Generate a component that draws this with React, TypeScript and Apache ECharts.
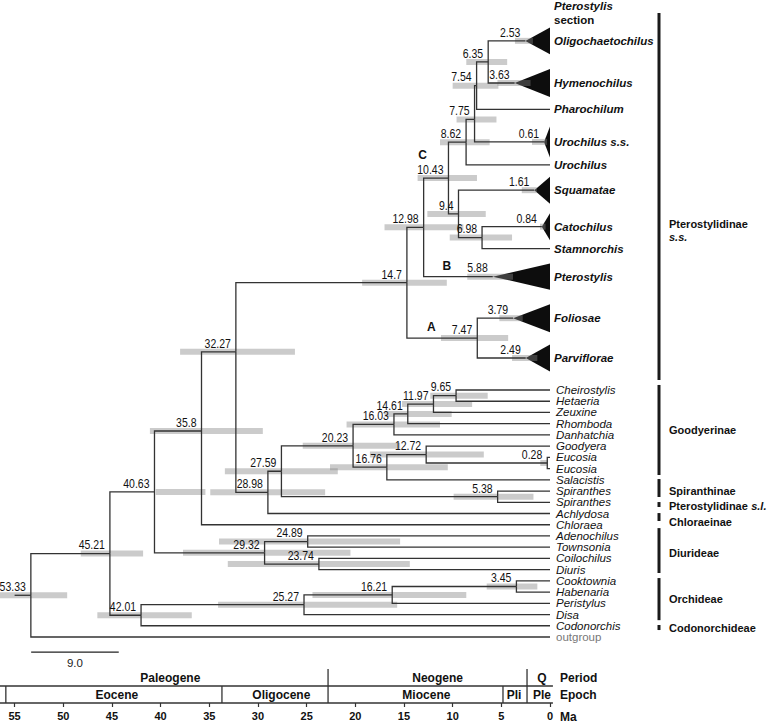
import React, { useEffect, useRef } from 'react';
import * as echarts from 'echarts';

// ---------- Tips (top to bottom) ----------
const tipNames = [
  'Oligochaetochilus', 'Hymenochilus', 'Pharochilum', 'Urochilus s.s.', 'Urochilus', 'Squamatae',
  'Catochilus', 'Stamnorchis', 'Pterostylis', 'Foliosae', 'Parviflorae',
  'Cheirostylis', 'Hetaeria', 'Zeuxine', 'Rhomboda', 'Danhatchia', 'Goodyera', 'Eucosia', 'Eucosia',
  'Salacistis', 'Spiranthes', 'Spiranthes', 'Achlydosa', 'Chloraea', 'Adenochilus', 'Townsonia',
  'Coilochilus', 'Diuris', 'Cooktownia', 'Habenaria', 'Peristylus', 'Disa', 'Codonorchis', 'outgroup',
];
const tipRows = [
  -0.1, 3.65, 6.0, 8.9, 10.95, 13.2, 16.45, 18.4, 20.9, 24.6, 28.15,
  31, 32, 33, 34, 35, 36, 37, 38, 39, 40, 41, 42, 43, 44, 45, 46, 47, 48, 49, 50, 51, 52, 53,
];
const sectionTipCount = 11; // bold italic labels (Pterostylidinae s.s. section)

// collapsed clades (first 11 tips): crown age, HPD, triangle half-height (rows)
const crownAges = [2.53, 3.63, null, 0.61, null, 1.61, 0.84, null, 5.88, 3.79, 2.49];
const crownHpdHigh = [3.6, 5.4, null, 1.85, null, 2.9, 1.03, null, 8.5, 5.2, 3.9];
const crownHpdLow = [1.75, 2.0, null, 0.3, null, 1.35, 0.45, null, 3.8, 2.8, 1.3];
const crownHalfHeights = [1.2, 1.25, 0, 1.38, 0, 1.2, 1.2, 0, 1.16, 1.25, 1.2];

// ---------- Internal nodes ----------
const nodeLabels = [
  '6.35', '7.54', '7.75', '8.62', '6.98', '9.4', '10.43', '12.98', '7.47', '14.7',
  '9.65', '11.97', '14.61', '16.03', '0.28', '12.72', '16.76', '20.23', '5.38', '27.59', '28.98',
  '32.27', '35.8', '24.89', '23.74', '29.32', '40.63', '3.45', '16.21', '25.27', '42.01', '45.21', '53.33',
];
const nodeChildren: (number | string)[][] = [
  [0, 1], ['6.35', 2], ['7.54', 3], ['7.75', 4], [6, 7], [5, '6.98'], ['8.62', '9.4'], ['10.43', 8], [9, 10], ['12.98', '7.47'],
  [11, 12], ['9.65', 13], ['11.97', 14], ['14.61', 15], [17, 18], [16, '0.28'], ['12.72', 19], ['16.03', '16.76'], [20, 21], ['20.23', '5.38'], ['27.59', 22],
  ['14.7', '28.98'], ['32.27', 23], [24, 25], [26, 27], ['24.89', '23.74'], ['35.8', '29.32'], [28, 29], ['3.45', 30], ['16.21', 31], ['25.27', 32], ['40.63', '42.01'], ['45.21', 33],
];
const nodeHpdHigh = [
  8.6, 10.0, 9.6, 11.3, 10.3, 12.6, 13.6, 17.0, 11.2, 19.3,
  12.3, 15.2, 17.0, 20.9, 1.0, 18.5, 22.6, 25.4, 9.9, 33.4, 34.9,
  38.0, 41.1, 34.0, 33.1, 37.7, 40.5, 6.5, 24.4, 34.1, 46.5, 48.2, 57.5,
];
const nodeHpdLow = [
  4.4, 5.3, 5.5, 6.2, 3.9, 6.6, 7.5, 8.9, 4.3, 10.6,
  6.4, 8.0, 10.1, 11.3, 0.2, 6.8, 10.5, 15.4, 1.7, 21.8, 23.1,
  26.2, 29.5, 15.4, 14.4, 20.5, 35.4, 1.3, 8.6, 15.7, 36.8, 41.8, 49.6,
];
const nodeRowOverrides: Record<string, number> = { '7.75': 6.9, '32.27': 27.6, '35.8': 34.65 };
const rootStemAge = 55.0;

// node letters
const letterNames = ['A', 'B', 'C'];
const letterAnchors = ['7.47', '5.88', '10.43'];
const letterPlacements = ['left', 'left', 'above'];

// ---------- Clade brackets ----------
const cladeNames = ['Pterostylidinae', 'Goodyerinae', 'Spiranthinae', 'Pterostylidinae', 'Chloraeinae', 'Diurideae', 'Orchideae', 'Codonorchideae'];
const cladeSuffixes = ['s.s.', '', '', 's.l.', '', '', '', ''];
const cladeBarStartRows = [-2.58, 30.55, 38.93, 40.98, 41.96, 43.3, 47.75, 51.93];
const cladeBarEndRows = [30.1, 38.57, 40.53, 41.42, 42.67, 47.3, 51.5, 52.38];
const cladeLabelRows = [16.8, 34.56, 40.0, 41.33, 42.76, 45.5, 49.6, 52.2];

// header above the top clade
const headerTexts = ['Pterostylis', 'section'];
const headerRows = [-3.2, -1.95];

// ---------- Scale bar ----------
const scaleBarStartAge = 53.3;
const scaleBarLength = 9.0;
const scaleBarRow = 54.34;
const scaleBarLabelRow = 55.3;

// ---------- Geological time scale ----------
const periodNames = ['Paleogene', 'Neogene', 'Q'];
const periodLabelAges = [39.0, 11.55, 0.82];
const periodBoundaryAges = [22.8, 2.36];
const epochNames = ['Eocene', 'Oligocene', 'Miocene', 'Pli', 'Ple'];
const epochLabelAges = [44.5, 27.6, 12.7, 3.7, 0.82];
const epochBoundaryAges = [55.9, 33.7, 4.83];
const timeScaleFrom = 56.5;
const timeScaleTo = -0.3;
const tickValues = [0, 5, 10, 15, 20, 25, 30, 35, 40, 45, 50, 55];
const rowTitles = ['Period', 'Epoch', 'Ma'];
const rowTitleRows = [0.5, 1.55, 2.82];

const AGE_MAX = 56.5;
const SANS = '"Liberation Sans", Arial, sans-serif';

function buildOption() {
  const nodeAges = nodeLabels.map((l) => parseFloat(l));
  const nodeIndex: Record<string, number> = {};
  nodeLabels.forEach((l, i) => (nodeIndex[l] = i));
  const rowCache: Record<number, number> = {};
  const refRow = (r: number | string): number =>
    typeof r === 'number' ? tipRows[r] : nodeRow(nodeIndex[r]);
  const refAge = (r: number | string): number => {
    if (typeof r === 'number') {
      const c = r < crownAges.length ? crownAges[r] : null;
      return c == null ? 0 : c;
    }
    return nodeAges[nodeIndex[r]];
  };
  function nodeRow(i: number): number {
    if (rowCache[i] !== undefined) return rowCache[i];
    const ov = nodeRowOverrides[nodeLabels[i]];
    const rows = nodeChildren[i].map(refRow);
    const v = ov !== undefined ? ov : (Math.min(...rows) + Math.max(...rows)) / 2;
    rowCache[i] = v;
    return v;
  }

  // elbows
  const elbows: number[][] = [];
  nodeLabels.forEach((_, i) => {
    nodeChildren[i].forEach((c) => {
      elbows.push([nodeAges[i], nodeRow(i), refRow(c), refAge(c)]);
    });
  });
  const rootIdx = nodeIndex['53.33'];
  elbows.push([rootStemAge, nodeRow(rootIdx), nodeRow(rootIdx), nodeAges[rootIdx]]);

  // triangles
  const triangles: number[][] = [];
  crownAges.forEach((a, i) => {
    if (a != null) triangles.push([a, tipRows[i], crownHalfHeights[i]]);
  });

  // HPD bars
  const bars: number[][] = [];
  nodeLabels.forEach((_, i) => bars.push([nodeHpdHigh[i], nodeHpdLow[i], nodeRow(i)]));
  crownAges.forEach((a, i) => {
    if (a != null) bars.push([crownHpdHigh[i] as number, crownHpdLow[i] as number, tipRows[i]]);
  });

  // age labels
  const ageLabelData: number[][] = [];
  const ageLabelTexts: string[] = [];
  const anchorPos: Record<string, number[]> = {};
  nodeLabels.forEach((l, i) => {
    ageLabelData.push([nodeAges[i], nodeRow(i)]);
    ageLabelTexts.push(l);
    anchorPos[l] = [nodeAges[i], nodeRow(i)];
  });
  crownAges.forEach((a, i) => {
    if (a != null) {
      ageLabelData.push([a, tipRows[i]]);
      ageLabelTexts.push(String(a));
      anchorPos[String(a)] = [a, tipRows[i]];
    }
  });

  const letterData = letterAnchors.map((a) => anchorPos[a]);

  const tipData = tipRows.map((r) => [0, r]);
  const headerData = headerRows.map((r) => [0, r]);

  const cladeBarData = cladeNames.map((_, i) => [0, cladeBarStartRows[i], cladeBarEndRows[i]]);
  const cladeLabelData = cladeNames.map((_, i) => [0, cladeLabelRows[i]]);

  const base = { type: 'custom', silent: true, clip: false, animation: false } as any;

  const lineStyle = { stroke: '#333', lineWidth: 1.3, fill: null };

  const series: any[] = [
    {
      ...base, name: 'triangles', z: 2, xAxisIndex: 0, yAxisIndex: 0, data: triangles,
      renderItem: (p: any, api: any) => {
        const a = api.value(0), r = api.value(1), h = api.value(2);
        const p0 = api.coord([a, r]);
        const p1 = api.coord([0, r - h]);
        const p2 = api.coord([0, r + h]);
        return { type: 'polygon', shape: { points: [p0, p1, p2] }, style: { fill: '#0d0d0d' } };
      },
    },
    {
      ...base, name: 'hpd', z: 3, xAxisIndex: 0, yAxisIndex: 0, data: bars,
      renderItem: (p: any, api: any) => {
        const a = api.coord([api.value(0), api.value(2)]);
        const b = api.coord([api.value(1), api.value(2)]);
        return {
          type: 'rect',
          shape: { x: a[0], y: a[1] - 3, width: b[0] - a[0], height: 6 },
          style: { fill: 'rgba(130,130,130,0.42)' },
        };
      },
    },
    {
      ...base, name: 'branches', z: 4, xAxisIndex: 0, yAxisIndex: 0, data: elbows,
      renderItem: (p: any, api: any) => {
        const na = api.value(0), nr = api.value(1), cr = api.value(2), ca = api.value(3);
        return {
          type: 'polyline',
          shape: { points: [api.coord([na, nr]), api.coord([na, cr]), api.coord([ca, cr])] },
          style: lineStyle,
        };
      },
    },
    {
      ...base, name: 'ageLabels', z: 5, xAxisIndex: 0, yAxisIndex: 0, data: ageLabelData,
      renderItem: (p: any, api: any) => {
        const c = api.coord([api.value(0), api.value(1)]);
        return {
          type: 'text', x: c[0] - 5, y: c[1] - 2, scaleX: 0.84,
          style: {
            text: ageLabelTexts[p.dataIndex], fill: '#111', fontSize: 12.5, fontFamily: SANS,
            align: 'right', verticalAlign: 'bottom',
          },
        };
      },
    },
    {
      ...base, name: 'letters', z: 5, xAxisIndex: 0, yAxisIndex: 0, data: letterData,
      renderItem: (p: any, api: any) => {
        const c = api.coord([api.value(0), api.value(1)]);
        const above = letterPlacements[p.dataIndex] === 'above';
        return {
          type: 'text', x: c[0] + (above ? -26 : -46), y: c[1] + (above ? -23 : -11),
          style: {
            text: letterNames[p.dataIndex], fill: '#111', fontSize: 12, fontWeight: 'bold', fontFamily: SANS,
            align: 'center', verticalAlign: 'middle',
          },
        };
      },
    },
    {
      ...base, name: 'tips', z: 5, xAxisIndex: 0, yAxisIndex: 0, data: tipData,
      renderItem: (p: any, api: any) => {
        const c = api.coord([api.value(0), api.value(1)]);
        const i = p.dataIndex;
        const section = i < sectionTipCount;
        const out = tipNames[i] === 'outgroup';
        return {
          type: 'text', x: c[0] + (section ? 4 : 6), y: c[1],
          style: {
            text: tipNames[i],
            fill: out ? '#777' : '#111',
            fontSize: 11.5,
            fontFamily: SANS,
            fontWeight: section ? 'bold' : 'normal',
            fontStyle: out ? 'normal' : 'italic',
            align: 'left', verticalAlign: 'middle',
          },
        };
      },
    },
    {
      ...base, name: 'header', z: 5, xAxisIndex: 0, yAxisIndex: 0, data: headerData,
      renderItem: (p: any, api: any) => {
        const c = api.coord([api.value(0), api.value(1)]);
        return {
          type: 'text', x: c[0] + 4, y: c[1],
          style: {
            text: headerTexts[p.dataIndex], fill: '#111', fontSize: 11.5, fontFamily: SANS, fontWeight: 'bold',
            fontStyle: p.dataIndex === 0 ? 'italic' : 'normal', align: 'left', verticalAlign: 'middle',
          },
        };
      },
    },
    {
      ...base, name: 'cladeBars', z: 5, xAxisIndex: 0, yAxisIndex: 0, data: cladeBarData,
      renderItem: (p: any, api: any) => {
        const a = api.coord([0, api.value(1)]);
        const b = api.coord([0, api.value(2)]);
        return {
          type: 'rect', shape: { x: a[0] + 107.5, y: a[1], width: 3, height: b[1] - a[1] },
          style: { fill: '#1a1a1a' },
        };
      },
    },
    {
      ...base, name: 'cladeLabels', z: 5, xAxisIndex: 0, yAxisIndex: 0, data: cladeLabelData,
      renderItem: (p: any, api: any) => {
        const c = api.coord([0, api.value(1)]);
        const i = p.dataIndex;
        const suf = cladeSuffixes[i];
        const sep = i === 0 ? '\n' : ' ';
        const text = suf ? `{a|${cladeNames[i]}}${sep}{b|${suf}}` : `{a|${cladeNames[i]}}`;
        const rs = { fontSize: 11, fontFamily: SANS, fontWeight: 'bold', fill: '#111', lineHeight: 13 };
        return {
          type: 'text', x: c[0] + 119, y: c[1],
          style: {
            text, align: 'left', verticalAlign: 'middle',
            rich: { a: { ...rs }, b: { ...rs, fontStyle: 'italic' } },
          },
        };
      },
    },
    {
      ...base, name: 'scaleBar', z: 5, xAxisIndex: 0, yAxisIndex: 0,
      data: [[scaleBarStartAge, scaleBarStartAge - scaleBarLength, scaleBarRow, scaleBarLabelRow]],
      renderItem: (p: any, api: any) => {
        const a = api.coord([api.value(0), api.value(2)]);
        const b = api.coord([api.value(1), api.value(2)]);
        const m = api.coord([(api.value(0) + api.value(1)) / 2, api.value(3)]);
        return {
          type: 'group',
          children: [
            { type: 'line', shape: { x1: a[0], y1: a[1], x2: b[0], y2: b[1] }, style: { stroke: '#222', lineWidth: 1.3 } },
            {
              type: 'text', x: m[0], y: m[1],
              style: { text: scaleBarLength.toFixed(1), fill: '#222', fontSize: 11.5, fontFamily: SANS, align: 'center', verticalAlign: 'middle' },
            },
          ],
        };
      },
    },
    // ---------- time scale ----------
    {
      ...base, name: 'tsLines', z: 5, xAxisIndex: 1, yAxisIndex: 1,
      data: [
        [timeScaleFrom, 1, timeScaleTo, 1],
        [timeScaleFrom, 2, timeScaleTo, 2],
        ...periodBoundaryAges.map((a) => [a, 0, a, 2]),
        ...epochBoundaryAges.map((a) => [a, 1, a, 2]),
      ],
      renderItem: (p: any, api: any) => {
        const a = api.coord([api.value(0), api.value(1)]);
        const b = api.coord([api.value(2), api.value(3)]);
        return { type: 'line', shape: { x1: a[0], y1: a[1], x2: b[0], y2: b[1] }, style: { stroke: '#333', lineWidth: 1.3 } };
      },
    },
    {
      ...base, name: 'tsLabels', z: 5, xAxisIndex: 1, yAxisIndex: 1,
      data: [...periodLabelAges.map((a) => [a, 0.5]), ...epochLabelAges.map((a) => [a, 1.55])],
      renderItem: (p: any, api: any) => {
        const c = api.coord([api.value(0), api.value(1)]);
        const names = [...periodNames, ...epochNames];
        return {
          type: 'text', x: c[0], y: c[1],
          style: { text: names[p.dataIndex], fill: '#111', fontSize: 12, fontWeight: 'bold', fontFamily: SANS, align: 'center', verticalAlign: 'middle' },
        };
      },
    },
    {
      ...base, name: 'tsTitles', z: 5, xAxisIndex: 1, yAxisIndex: 1,
      data: rowTitleRows.map((r) => [0, r]),
      renderItem: (p: any, api: any) => {
        const c = api.coord([0, api.value(1)]);
        return {
          type: 'text', x: c[0] + 10, y: c[1],
          style: { text: rowTitles[p.dataIndex], fill: '#111', fontSize: 12, fontWeight: 'bold', fontFamily: SANS, align: 'left', verticalAlign: 'middle' },
        };
      },
    },
  ];

  return {
    animation: false,
    backgroundColor: '#ffffff',
    grid: [
      { left: 0, top: 42, width: 550, height: 595 },
      { left: 0, top: 669, width: 550, height: 34 },
    ],
    xAxis: [
      { gridIndex: 0, type: 'value', min: 0, max: AGE_MAX, inverse: true, show: false },
      {
        gridIndex: 1, type: 'value', min: 0, max: AGE_MAX, inverse: true, interval: 5, position: 'bottom',
        axisLine: { show: false, onZero: false },
        splitLine: { show: false },
        axisTick: { show: true, length: 4, customValues: tickValues, lineStyle: { color: '#333', width: 1.2 } },
        axisLabel: {
          show: true, customValues: tickValues, margin: 7, color: '#111', fontSize: 11,
          fontWeight: 'bold', fontFamily: SANS,
        },
      },
    ],
    yAxis: [
      { gridIndex: 0, type: 'value', min: 0, max: 53, inverse: true, show: false },
      { gridIndex: 1, type: 'value', min: 0, max: 2, inverse: true, show: false },
    ],
    series,
  };
}

export default function App() {
  const ref = useRef<HTMLDivElement>(null);
  useEffect(() => {
    if (!ref.current) return;
    const chart = echarts.init(ref.current, null, { renderer: 'svg' });
    chart.setOption(buildOption() as any);
    return () => chart.dispose();
  }, []);
  return (
    <div
      ref={ref}
      style={{ position: 'absolute', left: 0, top: 0, width: 767, height: 723, background: '#fff' }}
    />
  );
}
